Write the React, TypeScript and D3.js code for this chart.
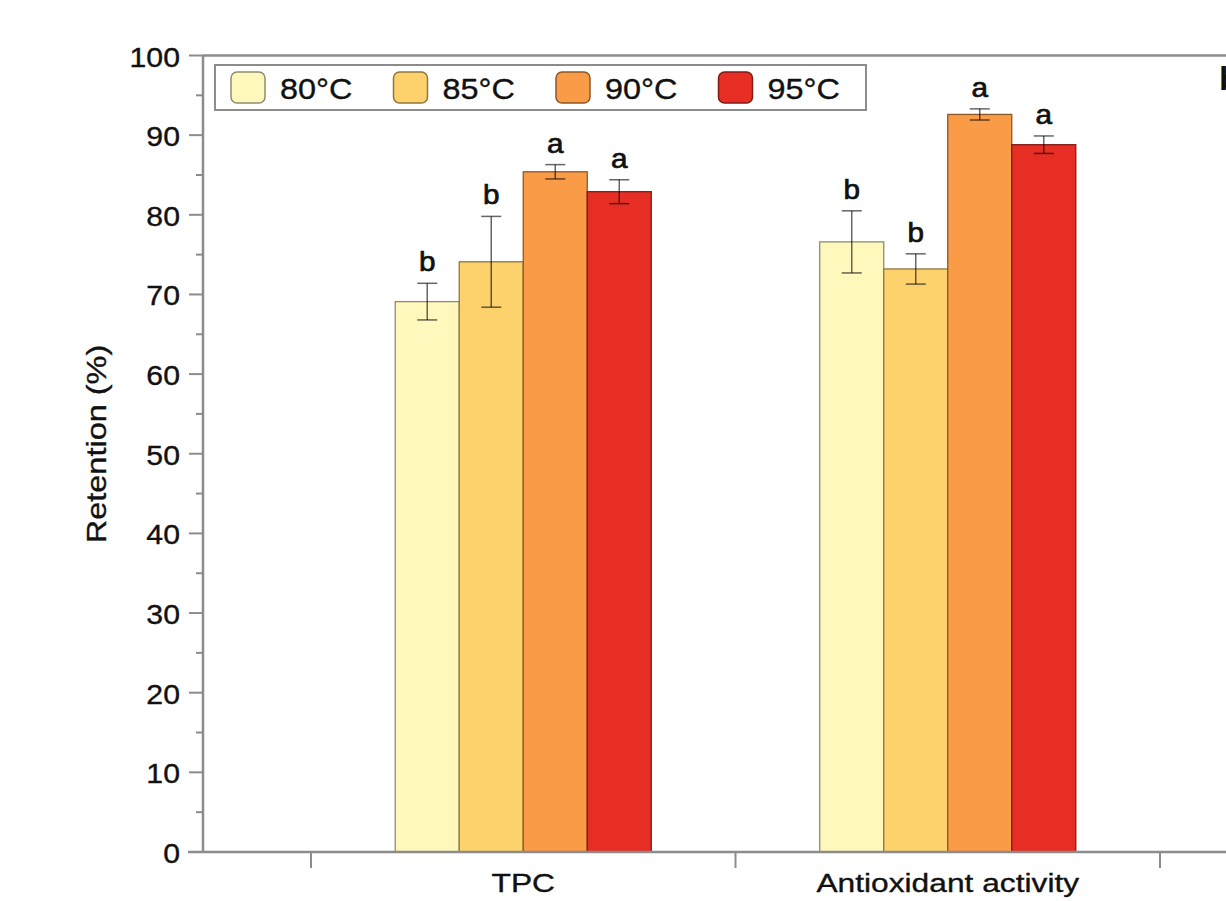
import React from "react";
import * as d3 from "d3";

const categories = ["TPC", "Antioxidant activity"];
const temps = ["80°C", "85°C", "90°C", "95°C"];
const colors = ["#FFF8BD", "#FDD26D", "#FA9B47", "#E62E25"];
const means: number[][] = [
  [69.1, 74.1, 85.4, 82.9],
  [76.6, 73.2, 92.6, 88.8],
];
const errs: number[][] = [
  [2.3, 5.7, 0.9, 1.5],
  [3.9, 1.9, 0.7, 1.1],
];
const letters: string[][] = [
  ["b", "b", "a", "a"],
  ["b", "b", "a", "a"],
];
const yTicks = [0, 10, 20, 30, 40, 50, 60, 70, 80, 90, 100];
const yMinor = d3.range(5, 100, 10);

const W = 1226;
const H = 901;
const FONT = "'Liberation Sans', Arial, Helvetica, sans-serif";
const AXIS = "#8c8c8c";

function T(props: {
  x: number;
  y: number;
  size: number;
  sx?: number;
  anchor?: string;
  rotate?: number;
  weight?: string | number;
  sw?: number;
  children: React.ReactNode;
}) {
  const { x, y, size, sx = 1, anchor = "start", rotate = 0, weight = "normal", sw = 0.35 } = props;
  return (
    <text
      transform={`translate(${x},${y}) rotate(${rotate}) scale(${sx},1)`}
      fontSize={size}
      fontFamily={FONT}
      fontWeight={weight}
      textAnchor={anchor}
      fill="#111"
      stroke="#111"
      strokeWidth={sw}
    >
      {props.children}
    </text>
  );
}

export default function App() {
  const y = d3.scaleLinear().domain([0, 100]).range([852, 55.5]);
  const x = d3.scaleBand<string>().domain(categories).range([311, 1160]).padding(0);
  const bw = x.bandwidth();
  const inner = d3
    .scaleBand<string>()
    .domain(temps)
    .range([0, bw])
    .paddingInner(0)
    .paddingOuter(1.316);
  const barW = inner.bandwidth();
  const x0 = 203;

  const tickXs = [...categories.map((c) => x(c)!), x(categories[categories.length - 1])! + bw];

  return (
    <svg
      width={W}
      height={H}
      style={{ position: "absolute", left: 0, top: 0, background: "#fff" }}
    >
      {/* bars */}
      {categories.map((c, ci) =>
        temps.map((t, ti) => {
          const bx = x(c)! + inner(t)!;
          const v = means[ci][ti];
          const e = errs[ci][ti];
          const cx = bx + barW / 2;
          const stroke = d3.color(colors[ti])!.darker(1.6).formatHex();
          return (
            <g key={c + t}>
              <rect
                x={bx}
                y={y(v)}
                width={barW}
                height={y(0) - y(v)}
                fill={colors[ti]}
                stroke={stroke}
                strokeWidth={1.3}
              />
              <g stroke="#000" strokeOpacity={0.6} strokeWidth={1.5}>
                <line x1={cx} x2={cx} y1={y(v + e)} y2={y(v - e)} />
                <line x1={cx - 10} x2={cx + 10} y1={y(v + e)} y2={y(v + e)} />
                <line x1={cx - 10} x2={cx + 10} y1={y(v - e)} y2={y(v - e)} />
              </g>
              <T x={cx} y={y(v + e) - 12} size={27} sx={1.1} anchor="middle" sw={0.7}>
                {letters[ci][ti]}
              </T>
            </g>
          );
        })
      )}

      {/* frame / axes */}
      <line x1={x0} x2={W} y1={y(100)} y2={y(100)} stroke={AXIS} strokeWidth={2.5} />
      <line x1={x0} x2={x0} y1={y(100)} y2={y(0)} stroke={AXIS} strokeWidth={2.5} />
      <line x1={188} x2={W} y1={y(0)} y2={y(0)} stroke={AXIS} strokeWidth={2.5} />
      {yTicks.map((v) => (
        <g key={"yt" + v}>
          <line x1={x0 - 14} x2={x0} y1={y(v)} y2={y(v)} stroke={AXIS} strokeWidth={2} />
          <T x={180} y={y(v) + 11} size={27} sx={1.12} anchor="end">
            {v}
          </T>
        </g>
      ))}
      {yMinor.map((v) => (
        <line key={"ym" + v} x1={x0 - 7} x2={x0} y1={y(v)} y2={y(v)} stroke={AXIS} strokeWidth={2} />
      ))}
      {tickXs.map((tx, i) => (
        <line key={"xt" + i} x1={tx} x2={tx} y1={y(0)} y2={y(0) + 16} stroke={AXIS} strokeWidth={2} />
      ))}
      {categories.map((c) => (
        <T key={"cl" + c} x={x(c)! + bw / 2} y={892} size={26} sx={1.22} anchor="middle">
          {c}
        </T>
      ))}

      {/* y label */}
      <T x={106} y={444} size={28} sx={1.16} anchor="middle" rotate={-90}>
        Retention (%)
      </T>

      {/* legend */}
      <rect x={215} y={65} width={651} height={45} fill="#fff" stroke={AXIS} strokeWidth={2} />
      {temps.map((t, i) => {
        const lx = 231 + i * 162.5;
        return (
          <g key={"lg" + t}>
            <rect
              x={lx}
              y={72}
              width={34}
              height={31}
              rx={6}
              fill={colors[i]}
              stroke={d3.color(colors[i])!.darker(1.6).formatHex()}
              strokeWidth={1.5}
            />
            <T x={lx + 49} y={99} size={30} sx={1.08}>
              {t}
            </T>
          </g>
        );
      })}

      {/* cut-off panel label at right edge (as in the reference) */}
      <T x={1219} y={90} size={34} weight="bold" sw={0}>
        b
      </T>
    </svg>
  );
}
